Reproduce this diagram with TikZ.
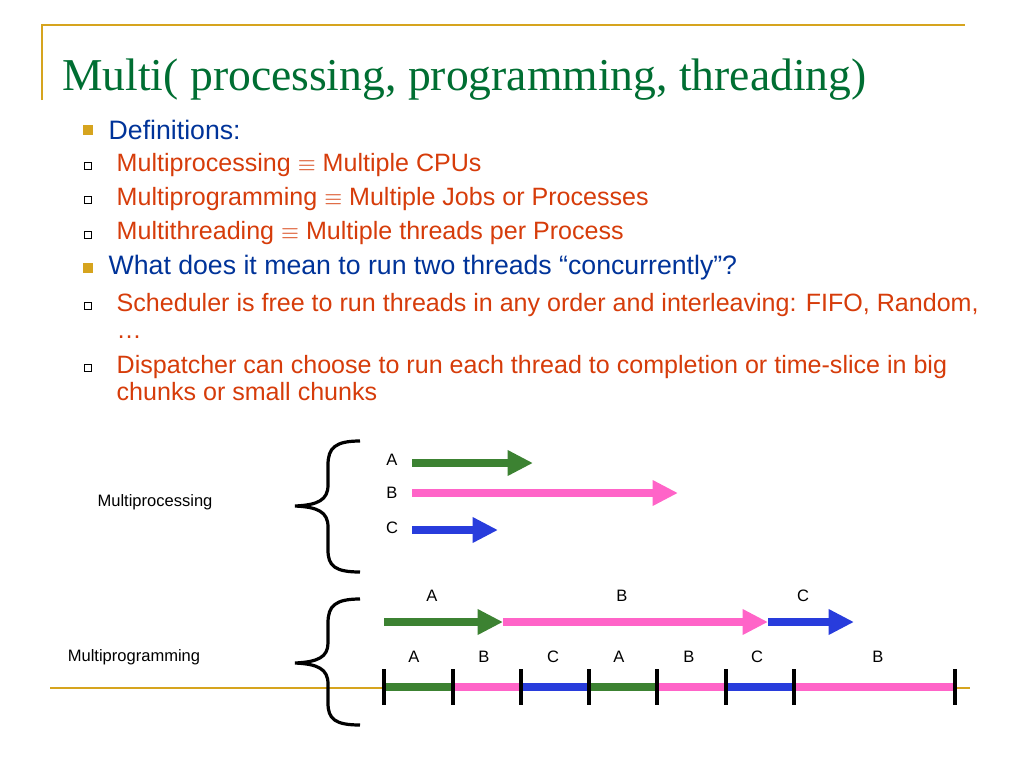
\documentclass[tikz,border=0pt]{standalone}
\usepackage{fontspec}
\setmainfont{Liberation Sans}
\newfontfamily\serifit{Liberation Serif}
\usetikzlibrary{arrows.meta}
\definecolor{gold}{RGB}{214,164,30}
\definecolor{ttl}{RGB}{0,110,50}
\definecolor{blu}{RGB}{0,51,153}
\definecolor{ora}{RGB}{214,60,10}
\definecolor{ggreen}{RGB}{60,130,50}
\definecolor{gpink}{RGB}{255,100,200}
\definecolor{gblue}{RGB}{40,60,220}
\begin{document}
\begin{tikzpicture}[x=0.75pt,y=-0.75pt,
  lvone/.style={anchor=west,text=blu,font=\fontsize{20}{24}\selectfont},
  lvtwo/.style={anchor=west,text=ora,font=\fontsize{18.8}{20}\selectfont,align=left},
  bulA/.style={fill=gold,minimum size=7.5pt,inner sep=0pt},
  bulB/.style={draw=black,line width=0.5pt,minimum size=5pt,inner sep=0pt},
  lab/.style={font=\fontsize{12.4}{14}\selectfont,inner sep=0pt},
  fat/.style={line width=5.8pt,-{Triangle[length=19pt,width=18pt]}},
  seg/.style={line width=5.8pt},
  tick/.style={line width=2.6pt},
  brace/.style={line width=2.4pt}]
\useasboundingbox (0,0) rectangle (1024,768);
\draw[gold,line width=1.2pt] (42,100) -- (42,25) -- (965,25);
\draw[gold,line width=1.2pt] (50,688) -- (970,688);
\node[anchor=base west,text=ttl,font=\serifit\fontsize{34.2}{38}\selectfont,inner sep=0pt] (title) at (62,90) {Multi( processing, programming, threading)};
% bullets
\node[bulA] (b1) at (88,130) {};
\node[lvone] (t1) at (104,130) {Definitions:};
\node[bulB] (s1) at (88,166) {}; \node[lvtwo] (u1) at (112,165) {Multiprocessing $\equiv$ Multiple CPUs};
\node[bulB] (s2) at (88,200) {}; \node[lvtwo] (u2) at (112,199) {Multiprogramming $\equiv$ Multiple Jobs or Processes};
\node[bulB] (s3) at (88,235) {}; \node[lvtwo] (u3) at (112,233) {Multithreading $\equiv$ Multiple threads per Process};
\node[bulA] (b2) at (88,268) {};
\node[lvone] (t2) at (104,268) {What does it mean to run two threads “concurrently”?};
\node[bulB] (s4) at (88,306) {}; \node[lvtwo,anchor=north west] (u4) at (112,289) {Scheduler is free to run threads in any order and interleaving: FIFO, Random,\\\dots};
\node[bulB] (s5) at (88,368) {}; \node[lvtwo,anchor=north west] (u5) at (112,351) {Dispatcher can choose to run each thread to completion or time-slice in big\\chunks or small chunks};
% labels
\node[lab] (mp) at (155,502) {Multiprocessing};
\node[lab] (mg) at (134,657) {Multiprogramming};
% braces
\draw[brace] (360,441) .. controls (335,441) and (328,448) .. (328,465) -- (328,485) .. controls (328,500) and (318,505) .. (295,506)
  .. controls (318,507) and (328,512) .. (328,527) -- (328,550) .. controls (328,566) and (335,572) .. (360,572);
\draw[brace] (360,599) .. controls (335,599) and (328,606) .. (328,623) -- (328,643) .. controls (328,657) and (318,662) .. (295,663)
  .. controls (318,664) and (328,669) .. (328,684) -- (328,703) .. controls (328,719) and (335,725) .. (360,725);
% upper arrows
\node[lab] (la) at (392,460) {A};
\node[lab] (lb) at (392,493) {B};
\node[lab] (lc) at (392,528) {C};
\coordinate (a0) at (412,463); \coordinate (a1) at (533,463);
\coordinate (bb0) at (412,493); \coordinate (bb1) at (678,493);
\coordinate (c0) at (412,530); \coordinate (c1) at (498,530);
\draw[fat,ggreen] (a0) -- (a1);
\draw[fat,gpink] (bb0) -- (bb1);
\draw[fat,gblue] (c0) -- (c1);
% middle arrows
\node[lab] (ma) at (432,596) {A};
\node[lab] (mb) at (622,596) {B};
\node[lab] (mc) at (803,596) {C};
\coordinate (m0) at (384,622); \coordinate (m1) at (503,622); \coordinate (m2) at (768,622); \coordinate (m3) at (854,622);
\draw[fat,ggreen] (m0) -- (m1);
\draw[fat,gpink] (m1) -- (m2);
\draw[fat,gblue] (m2) -- (m3);
% timeline
\foreach \i/\x in {0/384,1/453,2/521,3/589,4/657,5/726,6/794,7/955}{\coordinate (k\i) at (\x,687);}
\draw[seg,ggreen] (k0) -- (k1); \draw[seg,gpink] (k1) -- (k2); \draw[seg,gblue] (k2) -- (k3);
\draw[seg,ggreen] (k3) -- (k4); \draw[seg,gpink] (k4) -- (k5); \draw[seg,gblue] (k5) -- (k6);
\draw[seg,gpink] (k6) -- (k7);
\foreach \i in {0,...,7}{\draw[tick] ([yshift=13.5pt]k\i) -- ([yshift=-13.5pt]k\i);}
\foreach \x/\t in {414/A,484/B,553/C,619/A,689/B,757/C,878/B}{\node[lab] at (\x,657) {\t};}
\end{tikzpicture}
\end{document}
